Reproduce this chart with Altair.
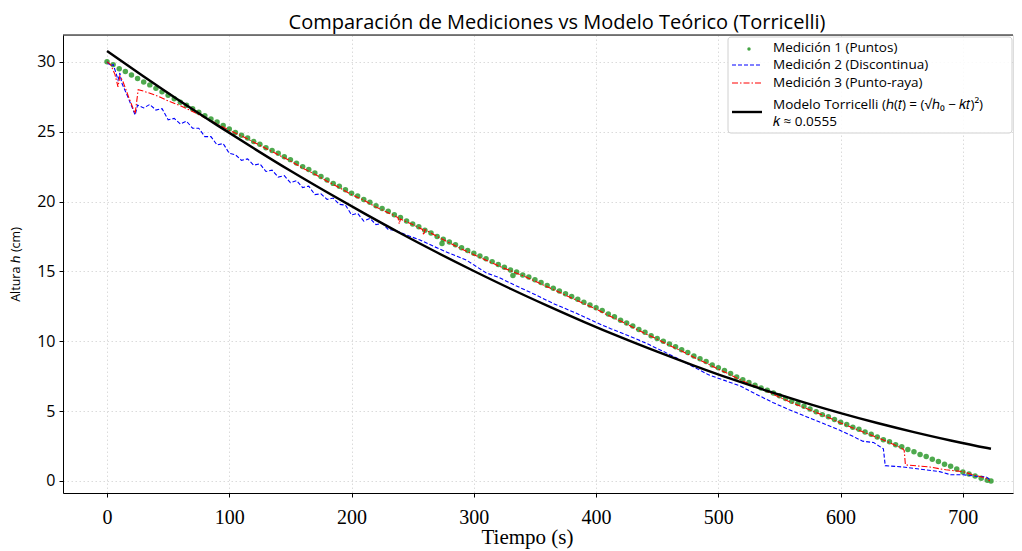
import altair as alt
import pandas as pd

# ---------------- data ----------------
# Medición 1 (Puntos): one reading every 5 s from 0 to 720 s
m1_t = list(range(0, 721, 5))
m1_h = [
    30.0, 29.8, 29.5, 29.3, 29.05, 28.8,
    28.55, 28.35, 28.1, 27.85, 27.6,
    27.35, 27.1, 26.9, 26.65, 26.4,
    26.15, 25.9, 25.7, 25.45, 25.2,
    24.95, 24.75, 24.55, 24.3, 24.1,
    23.85, 23.65, 23.45, 23.2, 23.0,
    22.75, 22.5, 22.3, 22.05, 21.8,
    21.55, 21.3, 21.1, 20.85, 20.6,
    20.4, 20.15, 19.95, 19.7, 19.5,
    19.3, 19.05, 18.85, 18.6, 18.4,
    18.2, 17.95, 17.75, 17.5, 17.3,
    17.1, 16.9, 16.7, 16.5, 16.3,
    16.1, 15.9, 15.7, 15.5, 15.3,
    15.1, 14.95, 14.75, 14.6, 14.4,
    14.2, 14.0, 13.8, 13.6, 13.4,
    13.2, 13.0, 12.8, 12.6, 12.4,
    12.2, 11.95, 11.75, 11.5, 11.3,
    11.1, 10.85, 10.65, 10.4, 10.2,
    10.0, 9.8, 9.6, 9.4, 9.2,
    8.95, 8.75, 8.55, 8.3, 8.1,
    7.9, 7.7, 7.45, 7.25, 7.05,
    6.85, 6.65, 6.5, 6.3, 6.1,
    5.9, 5.7, 5.55, 5.35, 5.15,
    4.95, 4.75, 4.6, 4.4, 4.2,
    4.05, 3.85, 3.7, 3.5, 3.35,
    3.15, 2.95, 2.8, 2.6, 2.45,
    2.25, 2.1, 1.9, 1.75, 1.55,
    1.4, 1.2, 1.05, 0.85, 0.65,
    0.5, 0.35, 0.2, 0.05,
]
m1_extra_t = [274, 332, 723]
m1_extra_h = [17.0, 14.7, 0.0]

# Medición 2 (Discontinua)
m2_t = [0, 3, 5, 7, 9, 10.5, 12, 17, 23, 25,
        30, 35, 40, 45, 50, 55, 60, 65, 70, 75, 80, 85, 90, 95, 100, 105, 110, 115,
        120, 125, 130, 135, 140, 145, 150, 155, 160, 165, 170, 175, 180, 185, 190,
        195, 200, 205, 210, 215, 220, 225, 230, 235,
        245, 256, 267, 280, 294, 302, 310, 321, 335, 350, 365, 384, 400, 412, 425,
        440, 452, 466, 479, 492, 505, 518, 530, 545, 558, 572, 585, 599, 610, 618,
        627, 635, 636.5, 651, 665, 681, 690, 700, 710, 719, 722]
m2_h = [30.0, 29.7, 29.8, 29.3, 28.7, 29.2, 28.5, 27.5, 26.2, 26.9,
        26.7, 26.95, 26.55, 26.65, 25.85, 25.95, 25.55, 25.75, 25.25, 25.25, 24.65,
        24.65, 24.05, 24.15, 23.45, 23.35, 22.95, 23.05, 22.6, 22.7, 22.15, 22.25,
        21.75, 21.85, 21.35, 21.5, 21.0, 21.1, 20.5, 20.55, 20.15, 20.25, 19.8,
        19.75, 19.05, 19.15, 18.6, 18.8, 18.35, 18.45, 18.0, 17.95,
        17.6, 17.25, 16.8, 16.3, 15.8, 15.35, 14.9, 14.55, 13.95, 13.35, 12.7, 12.0,
        11.35, 10.9, 10.45, 9.9, 9.4, 8.8, 8.2, 7.6, 7.2, 6.8, 6.25, 5.6, 5.1, 4.6,
        4.15, 3.65, 3.2, 2.85, 2.75, 2.3, 1.1, 1.0, 0.85, 0.67, 0.45, 0.45, 0.35,
        0.3, 0.1]

# Medición 3 (Punto-raya)
m3_t = [0, 3, 6.5, 9, 10.5, 13, 18, 23, 25.5,
        30, 40, 50, 60, 70, 80, 90, 100, 110, 120, 130, 140, 150, 160, 170, 180,
        190, 200, 210, 220, 230,
        238, 239, 240, 250, 258, 259, 260,
        270, 280, 290, 300, 310, 320, 330, 340, 350, 360, 370, 380, 390, 400, 410,
        420, 430, 440, 450, 460, 470, 480, 490, 500, 510, 520, 530, 540, 550, 560,
        570, 580, 590, 600, 610, 620, 630, 640, 650,
        652, 653, 673, 686, 700, 708, 719, 722]
m3_h = [30.0, 29.8, 29.1, 28.2, 29.0, 28.6, 27.4, 26.3, 28.0,
        27.9, 27.6, 27.2, 26.85, 26.45, 26.0, 25.55, 25.1, 24.7, 24.25, 23.8, 23.35,
        22.9, 22.4, 21.95, 21.45, 21.0, 20.5, 20.1, 19.6, 19.2,
        18.85, 18.4, 18.75, 18.35, 18.0, 17.6, 18.0,
        17.5, 17.05, 16.6, 16.2, 15.8, 15.4, 15.05, 14.7, 14.3, 13.9, 13.5, 13.1,
        12.7, 12.3, 11.85, 11.45, 11.0, 10.55, 10.15, 9.7, 9.3, 8.85, 8.45, 8.0,
        7.6, 7.15, 6.8, 6.4, 6.0, 5.6, 5.25, 4.9, 4.55, 4.15, 3.8, 3.45, 3.1, 2.75,
        2.35,
        2.2, 1.15, 1.0, 0.8, 0.67, 0.45, 0.2, 0.0]

# Modelo Torricelli
model_t = [0, 30, 60, 90, 120, 150, 180, 210, 240, 270, 300, 330, 360, 390, 420,
           450, 480, 510, 540, 570, 600, 630, 660, 690, 720, 723]
model_h = [30.78, 28.95, 27.18, 25.47, 23.81, 22.20, 20.66, 19.17, 17.73, 16.35,
           15.03, 13.76, 12.55, 11.39, 10.29, 9.25, 8.26, 7.32, 6.45, 5.63, 4.86,
           4.15, 3.50, 2.90, 2.36, 2.31]

x_ticks = [0, 100, 200, 300, 400, 500, 600, 700]
y_ticks = [0, 5, 10, 15, 20, 25, 30]

legend_labels = ["Medición 1 (Puntos)", "Medición 2 (Discontinua)",
                 "Medición 3 (Punto-raya)",
                 "Modelo Torricelli (ℎ(𝑡) = (√ℎ₀ − 𝑘𝑡)²)", "𝑘 ≈ 0.0555"]

title_text = "Comparación de Mediciones vs Modelo Teórico (Torricelli)"

# ---------------- styling ----------------
GREEN = "#2f9a2f"
SANS = "Open Sans"
SERIF = "Liberation Serif"
W, H = 950, 458

df1 = pd.DataFrame({"t": m1_t + m1_extra_t, "h": m1_h + m1_extra_h})
df2 = pd.DataFrame({"t": m2_t, "h": m2_h})
df3 = pd.DataFrame({"t": m3_t, "h": m3_h})
dfm = pd.DataFrame({"t": model_t, "h": model_h})
one = pd.DataFrame({"a": [0]})

xs = alt.Scale(domain=[-36, 741], nice=False, zero=False)
ys = alt.Scale(domain=[-0.86, 31.92], nice=False, zero=False)

grid_kw = dict(grid=True, gridColor="#d2d2d2", gridDash=[1.5, 2.5], gridWidth=0.8)
x_axis = alt.Axis(values=x_ticks, title="Tiempo (s)", labelFont=SERIF, labelFontSize=20,
                  titleFont=SERIF, titleFontSize=21, titleFontWeight="normal",
                  labelColor="black", titleColor="black", tickColor="black",
                  tickSize=4, labelPadding=10, domainColor="black",
                  titleBaseline="middle", titleY=44, titleX=464, **grid_kw)
y_axis = alt.Axis(values=y_ticks, title="Altura ℎ (cm)", labelFont=SANS, labelFontSize=16,
                  titleFont=SANS, titleFontSize=12.5, titleFontWeight="normal",
                  labelColor="black", titleColor="black", tickColor="black",
                  tickSize=4, labelPadding=4, domainColor="black",
                  titleBaseline="middle", titleX=-48, titleY=H / 2, **grid_kw)


def enc(c):
    return c.encode(x=alt.X("t:Q", scale=xs, axis=x_axis),
                    y=alt.Y("h:Q", scale=ys, axis=y_axis))


pts = enc(alt.Chart(df1).mark_circle(size=30, color=GREEN, opacity=0.85))
blue = enc(alt.Chart(df2).mark_line(color="blue", strokeWidth=1.1, strokeDash=[4, 2]))
red = enc(alt.Chart(df3).mark_line(color="red", strokeWidth=1.1, strokeDash=[6, 2, 1.5, 2]))
model = enc(alt.Chart(dfm).mark_line(color="black", strokeWidth=2.4, interpolate="monotone"))

top_spine = alt.Chart(one).mark_rule(color="black", strokeWidth=1).encode(
    x=alt.value(0), x2=alt.value(W), y=alt.value(0))

# legend (drawn by hand)
lx0, lx1 = 665, 949
box = alt.Chart(one).mark_rect(fill="white", fillOpacity=0.85, stroke="#d0d0d0",
                               strokeWidth=1, cornerRadius=3).encode(
    x=alt.value(lx0), x2=alt.value(lx1), y=alt.value(2), y2=alt.value(98))
sym_x0, sym_x1, txt_x = 669, 699, 710
leg_dot = alt.Chart(one).mark_circle(size=12, color=GREEN, opacity=0.9).encode(
    x=alt.value(686), y=alt.value(14))
leg_blue = alt.Chart(one).mark_rule(color="blue", strokeWidth=1.1, strokeDash=[4, 2]).encode(
    x=alt.value(sym_x0), x2=alt.value(sym_x1), y=alt.value(30))
leg_red = alt.Chart(one).mark_rule(color="red", strokeWidth=1.1, strokeDash=[6, 2, 1.5, 2]).encode(
    x=alt.value(sym_x0), x2=alt.value(sym_x1), y=alt.value(48))
leg_black = alt.Chart(one).mark_rule(color="black", strokeWidth=2.4).encode(
    x=alt.value(sym_x0), x2=alt.value(sym_x1), y=alt.value(77))
text_y = [13, 30, 48, 70, 87]
leg_texts = [
    alt.Chart(one).mark_text(text=lab, align="left", baseline="middle", font=SANS,
                             fontSize=13.5, color="black").encode(
        x=alt.value(txt_x), y=alt.value(ty))
    for lab, ty in zip(legend_labels, text_y)
]

chart = alt.layer(
    pts, blue, red, model, top_spine, box, leg_dot, leg_blue, leg_red, leg_black,
    *leg_texts
).properties(
    width=W, height=H,
    title=alt.TitleParams(title_text, font=SANS, fontSize=20, fontWeight="normal",
                          color="black", anchor="middle", frame="group", offset=2, dx=19),
    autosize=alt.AutoSizeParams(type="none"),
    padding={"left": 55, "top": 27, "right": 1, "bottom": 60},
).configure_view(stroke=None).configure(background="white")

chart.save("out.html", embed_options={"renderer": "svg", "actions": False})
